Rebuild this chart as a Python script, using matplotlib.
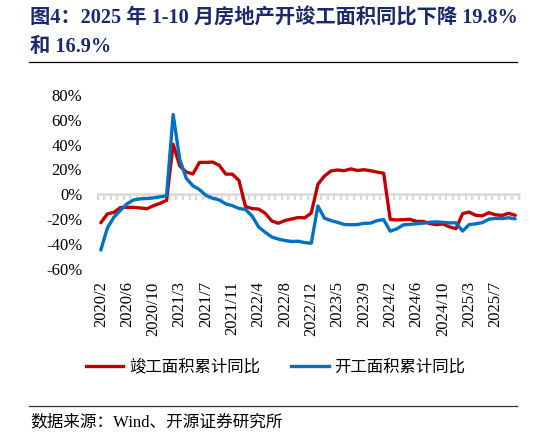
import matplotlib
matplotlib.use("Agg")
import matplotlib.pyplot as plt
from matplotlib.lines import Line2D

# ---- data ----
months = ([f"2020/{m}" for m in range(2, 13)] + [f"2021/{m}" for m in range(2, 13)]
          + [f"2022/{m}" for m in range(2, 13)] + [f"2023/{m}" for m in range(2, 13)]
          + [f"2024/{m}" for m in range(2, 13)] + [f"2025/{m}" for m in range(2, 11)])

completion_yoy = [-22.9, -15.8, -14.5, -10.6, -10.5, -10.5, -11.0, -11.6, -9.2, -7.3, -4.9,
                  40.4, 22.9, 17.9, 16.4, 25.7, 25.7, 26.0, 23.4, 16.3, 16.2, 11.2,
                  -9.8, -11.5, -11.9, -15.3, -21.5, -23.3, -21.1, -19.9, -18.7, -19.0, -15.0,
                  8.0, 14.7, 18.8, 19.6, 19.0, 20.5, 19.2, 19.8, 19.0, 17.9, 17.0,
                  -20.2, -20.7, -20.4, -20.1, -21.8, -21.8, -23.6, -24.4, -23.9, -26.2, -27.7,
                  -15.6, -14.3, -16.9, -17.3, -14.8, -16.5, -17.0, -15.3, -16.9]

newstart_yoy = [-44.9, -27.2, -18.4, -12.8, -7.6, -4.5, -3.6, -3.4, -2.9, -2.0, -1.2,
                64.3, 28.2, 12.8, 6.9, 3.8, -0.9, -3.2, -4.5, -7.7, -9.1, -11.4,
                -12.2, -17.5, -26.3, -30.6, -34.4, -36.1, -37.2, -38.0, -37.8, -38.9, -39.4,
                -9.4, -19.2, -21.2, -22.6, -24.3, -24.5, -24.4, -23.4, -23.2, -21.2, -20.4,
                -29.7, -27.8, -24.6, -24.2, -23.7, -23.2, -22.5, -22.2, -22.6, -23.0, -23.0,
                -29.6, -24.4, -23.8, -22.8, -20.0, -19.4, -19.5, -18.9, -19.8]

series_names = ["竣工面积累计同比", "开工面积累计同比"]
yticks = [-60, -40, -20, 0, 20, 40, 60, 80]
label_step = 4

title_line1 = "图4：2025 年 1-10 月房地产开竣工面积同比下降 19.8%"
title_line2 = "和 16.9%"
source_text = "数据来源：Wind、开源证券研究所"

RED = "#C00000"
BLUE = "#0070C0"
NAVY = "#1B2A6B"
MIX = ["Liberation Serif", "Noto Sans CJK SC"]

W, H = 546, 436
fig = plt.figure(figsize=(W / 100, H / 100), dpi=100)

left, right = 97.5 / W, 518.5 / W
top, bottom = 1 - 95 / H, 1 - 268.8 / H
ax = fig.add_axes([left, bottom, right - left, top - bottom])

x = list(range(len(months)))
ax.plot(x, completion_yoy, color=RED, lw=2.4, solid_joinstyle="round", solid_capstyle="round", zorder=3)
ax.plot(x, newstart_yoy, color=BLUE, lw=2.4, solid_joinstyle="round", solid_capstyle="round", zorder=4)

ax.set_xlim(-0.5, len(months) - 0.5)
ax.set_ylim(-60, 80)
for s in ax.spines.values():
    s.set_visible(False)

ax.set_yticks(yticks)
ax.set_yticklabels([f"{v}%" for v in yticks], family="Liberation Serif", fontsize=12)
ax.tick_params(axis="y", length=0, pad=11)

major = x[::label_step]
ax.set_xticks(major)
ax.set_xticklabels([months[i] for i in major], rotation=90, family="Liberation Serif", fontsize=12)
ax.tick_params(axis="x", length=0, pad=9)

# zero-line category axis with ticks between categories
zero_frac = (0 - (-60)) / (80 - (-60))
sec = ax.secondary_xaxis(zero_frac)
sec.set_xticks([i - 0.5 for i in range(len(months) + 1)])
sec.set_xticklabels([])
sec.tick_params(axis="x", direction="out", length=4, width=1.6, color="#D9D9D9")
sec.spines["bottom"].set_color("#D9D9D9")
sec.spines["bottom"].set_linewidth(1.8)
for k in ("top", "left", "right"):
    if k in sec.spines:
        sec.spines[k].set_visible(False)
sec.set_zorder(1)

# title
fig.text(30 / W, 1 - 18 / H, title_line1, family=MIX, fontsize=14.6, fontweight="bold",
         color=NAVY, ha="left", va="center")
fig.text(30 / W, 1 - 47 / H, title_line2, family=MIX, fontsize=14.6, fontweight="bold",
         color=NAVY, ha="left", va="center")
fig.add_artist(Line2D([29 / W, 517 / W], [1 - 62 / H, 1 - 62 / H], color="black", lw=0.9))

# legend
handles = [Line2D([], [], color=RED, lw=2.4), Line2D([], [], color=BLUE, lw=2.4)]
fig.legend(handles, series_names, loc="center", bbox_to_anchor=(275.5 / W, 1 - 367 / H),
           ncol=2, frameon=False, prop={"family": "Noto Sans CJK SC", "size": 11.8},
           handlelength=2.3, handletextpad=0.35, columnspacing=1.9, borderpad=0)

# source
fig.add_artist(Line2D([29 / W, 517 / W], [1 - 406 / H, 1 - 406 / H], color="#333333", lw=0.9))
fig.text(30 / W, 1 - 422 / H, source_text, family=MIX, fontsize=12, color="black",
         ha="left", va="center")

fig.savefig("out.png", dpi=100)
